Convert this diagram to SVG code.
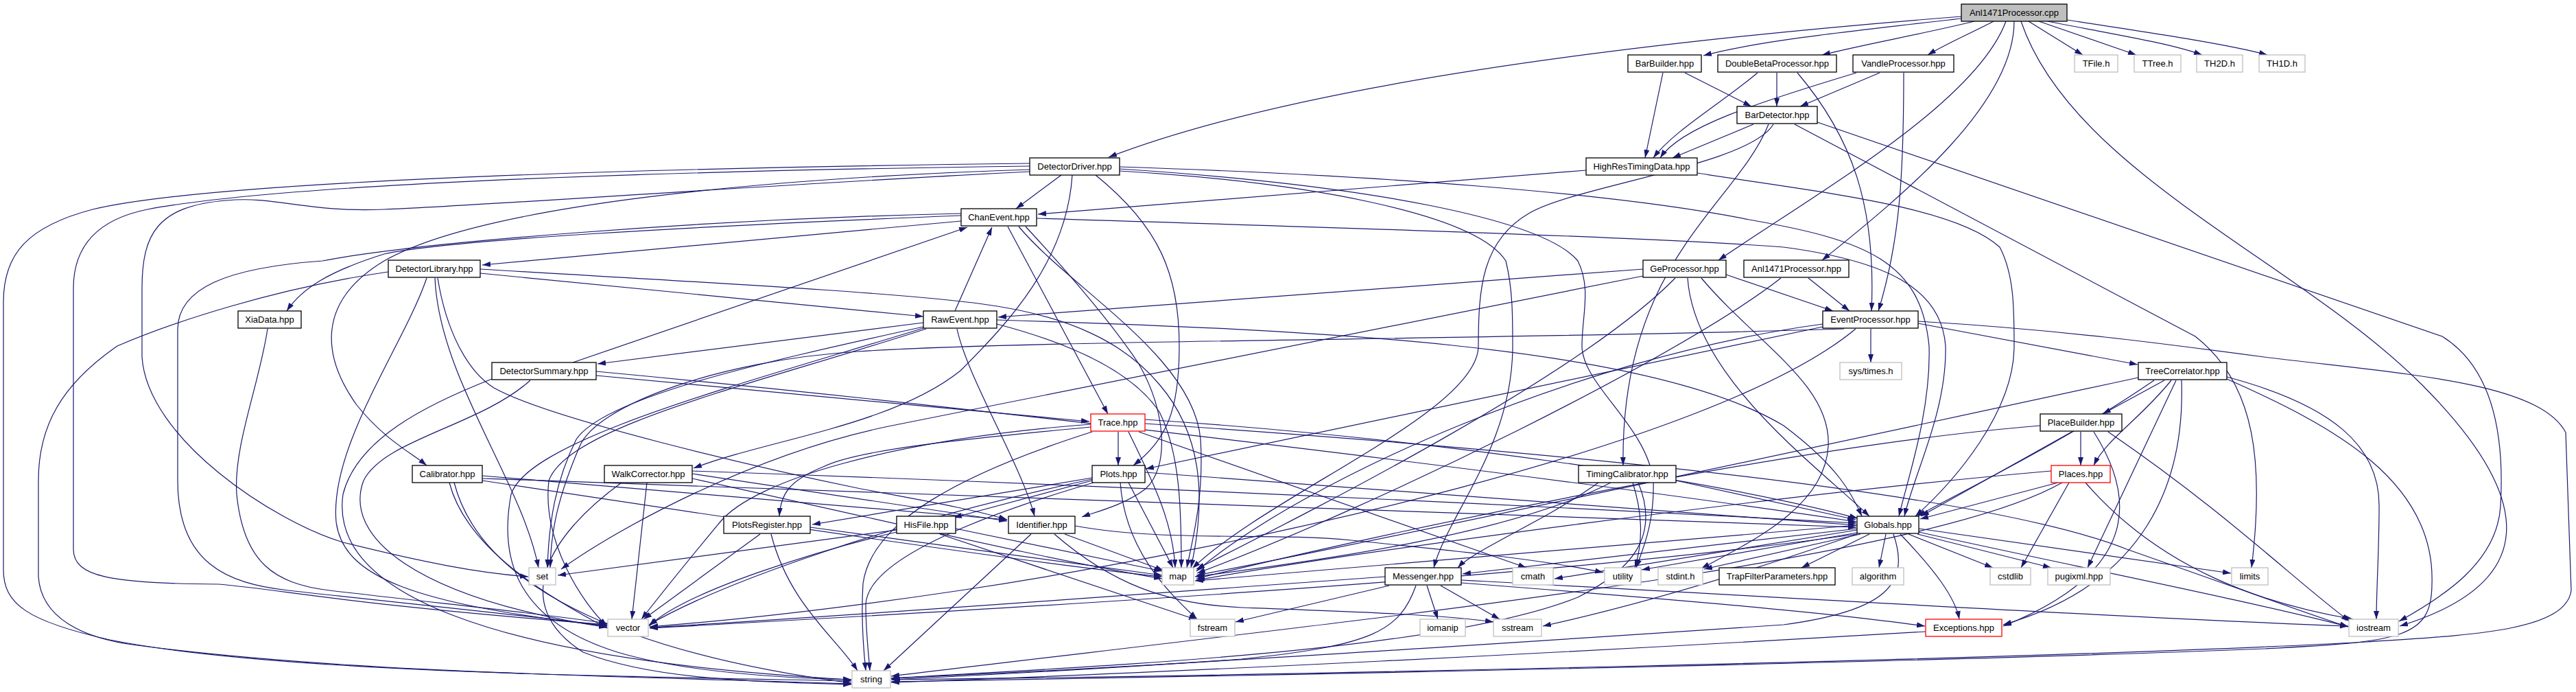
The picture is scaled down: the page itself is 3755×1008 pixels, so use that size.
<svg xmlns="http://www.w3.org/2000/svg" width="3755" height="1008" viewBox="0 0 3755 1008">
<defs>
<marker id="arr" markerWidth="12" markerHeight="8" refX="12" refY="4" orient="auto" markerUnits="userSpaceOnUse"><path d="M0,0 L12,4 L0,8 z" fill="#191970"/></marker>
<style>
.bg{fill:#ffffff}
#edges path{fill:none;stroke:#191970;stroke-width:1.2;marker-end:url(#arr)}
.node rect{fill:#ffffff;stroke:#000000;stroke-width:1.3}
.node.sys rect{stroke:#bfbfbf}
.node.red rect{stroke:#ff0000}
.node.root rect{fill:#bfbfbf}
.node text{font-family:"Liberation Sans",Arial,Helvetica,sans-serif;font-size:13px;text-anchor:middle;fill:#000000}
</style>
</defs>
<rect class="bg" x="0" y="0" width="3755" height="1008"/>
<g id="edges">
<path d="M2859,24 C2400,60 1900,120 1616,229"/>
<path d="M2859,27 C2700,45 2560,60 2483,81"/>
<path d="M2878,31 C2800,50 2720,64 2656,80"/>
<path d="M2906,31 C2880,45 2840,62 2810,80"/>
<path d="M2924,31 C2880,150 2650,280 2505,379"/>
<path d="M2936,31 C2936,150 2780,280 2656,379"/>
<path d="M2946,31 C3020,250 3350,380 3530,560 C3700,730 3700,850 3498,912"/>
<path d="M2957,31 L3036,80"/>
<path d="M2972,31 L3114,80"/>
<path d="M2985,31 C3080,50 3160,62 3210,80"/>
<path d="M3013,29 C3150,50 3250,65 3305,80"/>
<path d="M2424,106 L2398,230"/>
<path d="M2456,106 L2553,155"/>
<path d="M2590,106 L2590,155"/>
<path d="M2562,106 C2510,150 2440,190 2410,230"/>
<path d="M2620,106 C2700,200 2735,300 2728,453"/>
<path d="M2740,106 L2624,155"/>
<path d="M2706,106 C2560,150 2450,185 2420,230"/>
<path d="M2775,106 C2775,250 2770,350 2738,453"/>
<path d="M2556,181 L2438,230"/>
<path d="M2578,181 C2530,300 2362,380 2366,678"/>
<path d="M2585,181 C2550,240 2300,270 2230,310 C2160,350 2155,420 2155,504 C2155,600 1850,720 1738,828"/>
<path d="M2616,181 L3200,490 C3290,560 3300,680 3282,827"/>
<path d="M2649,178 L3560,490 C3640,540 3650,650 3645,737 C3640,820 3560,870 3497,905"/>
<path d="M1547,255 L1481,304"/>
<path d="M1563,255 C1555,380 1470,470 1400,540 C1300,620 1120,640 1011,682"/>
<path d="M1597,255 C1690,330 1719,400 1719,504 C1719,600 1700,640 1652,678"/>
<path d="M1501,247 C1100,260 700,300 560,380 C460,440 470,520 520,590 C560,640 600,660 622,678"/>
<path d="M1501,250 C1100,270 700,300 560,305 C450,310 400,285 330,292 C230,300 207,340 207,420 L207,520 C215,640 400,760 500,790 C620,820 700,835 770,840"/>
<path d="M1501,242 C900,250 400,270 215,305 C140,320 107,360 107,420 L107,800 C107,840 160,850 319,851 C420,860 500,880 885,910"/>
<path d="M1501,238 C900,245 300,265 135,305 C40,330 5,370 5,440 L5,830 C5,880 40,905 160,932 C400,980 900,985 1241,992"/>
<path d="M1632,243 C2000,255 2350,280 2550,320 C2720,350 2800,380 2812,504 C2815,600 2780,700 2768,752"/>
<path d="M1632,249 C1900,265 2150,310 2195,380 C2205,420 2205,460 2205,504 C2205,650 2110,750 2090,827"/>
<path d="M1632,246 C2000,270 2250,320 2300,380 C2320,420 2306,460 2306,504 C2306,560 2400,620 2410,700 C2412,760 2395,800 2385,827"/>
<path d="M2312,248 L1513,312"/>
<path d="M2474,252 C2650,280 2850,300 2915,360 C2936,400 2936,450 2936,504 C2936,600 2850,700 2792,752"/>
<path d="M1401,322 L703,386"/>
<path d="M1401,314 C1000,330 650,350 560,370 C480,395 440,420 418,453"/>
<path d="M1401,311 C1000,320 600,355 470,380 C330,390 259,420 259,480 L259,700 C259,820 330,850 420,860 C600,880 800,900 885,912"/>
<path d="M1469,330 L1615,603"/>
<path d="M1485,330 C1560,420 1740,520 1750,640 C1755,720 1740,780 1730,827"/>
<path d="M1495,330 C1560,400 1620,470 1660,530 C1700,600 1705,680 1670,712 C1640,735 1600,745 1577,753"/>
<path d="M1511,318 C1900,330 2400,345 2600,360 C2750,380 2830,420 2836,504 C2838,600 2790,690 2776,752"/>
<path d="M700,398 L1346,461"/>
<path d="M566,396 C400,420 250,470 171,504 C90,560 56,620 56,700 L56,840 C60,900 120,930 200,940 C500,980 900,985 1241,996"/>
<path d="M622,405 C590,500 480,650 490,760 C500,840 600,880 885,912"/>
<path d="M634,405 C640,550 760,700 785,827"/>
<path d="M638,405 C650,480 680,540 720,565 C800,610 1100,680 1250,711 C1350,730 1420,742 1468,757"/>
<path d="M700,392 C1000,410 1300,425 1433,443 C1560,460 1640,500 1690,560 C1750,630 1760,720 1736,827"/>
<path d="M390,479 C378,560 340,650 345,720 C355,820 400,850 480,860 C650,880 800,895 885,908"/>
<path d="M1392,453 L1446,331"/>
<path d="M1346,470 L871,530"/>
<path d="M1395,479 C1410,550 1490,680 1508,752"/>
<path d="M1346,476 C1100,530 880,580 840,640 C810,700 800,760 798,827"/>
<path d="M1350,479 C1100,560 830,620 800,700 C790,790 850,880 885,912"/>
<path d="M1346,478 C1080,560 770,640 745,720 C730,800 740,900 900,950 C1000,980 1150,988 1241,990"/>
<path d="M1453,472 C1560,500 1650,540 1690,600 C1720,660 1722,740 1722,827"/>
<path d="M1453,466 C1900,480 2400,500 2600,620 C2680,680 2700,720 2714,752"/>
<path d="M835,528 L1410,331"/>
<path d="M869,547 L1588,614"/>
<path d="M869,541 C1500,600 2300,700 2706,760"/>
<path d="M773,554 C700,620 560,640 530,700 C500,780 600,870 885,914"/>
<path d="M717,552 C620,590 520,640 500,720 C480,860 700,960 1241,990"/>
<path d="M1630,629 L1630,678"/>
<path d="M1645,629 C1680,700 1710,760 1713,827"/>
<path d="M1660,629 L2225,827"/>
<path d="M1590,622 C1400,640 1250,655 1200,680 C1150,700 1138,720 1136,752"/>
<path d="M1590,618 C1300,640 1100,700 1050,760 C1000,820 960,870 935,902"/>
<path d="M1592,629 C1400,690 1270,760 1258,850 C1255,900 1258,940 1262,977"/>
<path d="M1669,611 C2100,640 2500,700 2708,755"/>
<path d="M1669,617 C2300,660 2900,720 3100,800 C3300,870 3380,900 3423,913"/>
<path d="M1592,700 L1390,754"/>
<path d="M1592,696 C1450,720 1300,745 1184,764"/>
<path d="M1633,703 C1640,800 1700,860 1745,902"/>
<path d="M1645,703 L1710,827"/>
<path d="M1594,703 C1400,760 1265,820 1262,880 C1262,920 1266,950 1268,977"/>
<path d="M1669,688 L2706,765"/>
<path d="M1592,698 C1300,760 1050,850 946,910"/>
<path d="M1108,778 L938,902"/>
<path d="M1124,778 C1150,880 1220,930 1250,977"/>
<path d="M1181,768 L1694,838"/>
<path d="M1307,772 L813,838"/>
<path d="M1370,778 L1745,903"/>
<path d="M1393,770 L1694,832"/>
<path d="M1307,775 C1200,800 1000,860 946,912"/>
<path d="M1503,778 L1288,977"/>
<path d="M1537,778 C1620,850 1700,880 1810,885 C1950,890 2100,895 2177,906"/>
<path d="M1552,778 L1696,831"/>
<path d="M1567,766 C1700,790 1850,775 1970,787 C2100,800 2250,815 2337,834"/>
<path d="M703,693 L1468,757"/>
<path d="M703,697 C1500,720 2300,750 2706,768"/>
<path d="M703,700 C1100,760 1500,820 1694,840"/>
<path d="M655,703 C680,800 800,870 885,915"/>
<path d="M662,703 C700,850 900,950 1241,995"/>
<path d="M1009,690 L1468,759"/>
<path d="M1009,686 C1700,710 2300,740 2706,762"/>
<path d="M1009,697 C1300,760 1500,810 1694,843"/>
<path d="M943,703 L921,902"/>
<path d="M906,703 C800,780 740,880 850,950 C950,990 1100,993 1241,997"/>
<path d="M2348,703 C2200,780 1900,820 1742,840"/>
<path d="M2443,700 L2705,757"/>
<path d="M2380,703 C2395,750 2395,790 2383,827"/>
<path d="M2388,703 C2420,780 2380,830 2300,870 C2100,950 1600,970 1299,988"/>
<path d="M2330,703 C2250,760 2150,800 2125,827"/>
<path d="M2516,400 L2672,453"/>
<path d="M2395,392 L1455,462"/>
<path d="M2395,402 L1300,620 C1100,660 900,770 818,829"/>
<path d="M2442,405 C2300,550 1900,750 1744,829"/>
<path d="M2460,405 C2470,550 2650,680 2725,752"/>
<path d="M2480,405 C2560,500 2670,560 2665,650 C2660,740 2550,790 2480,828"/>
<path d="M2636,405 L2696,453"/>
<path d="M2596,405 C2450,520 2000,740 1745,835"/>
<path d="M2727,479 L2727,528"/>
<path d="M2796,471 L3116,531"/>
<path d="M2796,468 C3000,480 3150,500 3300,520 C3500,545 3700,555 3740,630 L3748,860 C3740,920 3600,925 3450,935 C3000,960 1800,985 1300,990"/>
<path d="M2657,472 C2300,520 1900,700 1744,832"/>
<path d="M2688,479 C2200,495 1500,495 1250,512 C1050,525 870,590 845,650 C815,720 803,770 802,827"/>
<path d="M2705,479 C2500,650 1800,800 1400,860 C1200,890 1050,905 947,913"/>
<path d="M2657,476 L1670,683"/>
<path d="M3155,554 L3065,603"/>
<path d="M3165,554 C3120,610 3070,640 3052,678"/>
<path d="M3172,554 L3043,827"/>
<path d="M3180,554 C3185,700 3130,850 2920,910"/>
<path d="M3117,550 C2700,640 2000,790 1744,838"/>
<path d="M3246,549 C3400,590 3470,650 3468,740 C3468,800 3464,860 3464,902"/>
<path d="M3246,552 C3400,620 3550,700 3545,850 C3545,930 3500,935 3300,945 C2800,965 1800,985 1299,993"/>
<path d="M3140,554 C3000,650 2850,720 2795,752"/>
<path d="M3033,629 L3033,678"/>
<path d="M3020,629 L2800,752"/>
<path d="M2974,620 C2600,650 2000,780 1744,843"/>
<path d="M3052,629 C3110,720 3125,830 2920,912"/>
<path d="M3073,629 C3250,750 3350,850 3425,905"/>
<path d="M3000,703 L2799,756"/>
<path d="M2990,686 C2600,720 2000,800 1744,845"/>
<path d="M3016,703 L2946,827"/>
<path d="M3040,703 C3150,830 3300,880 3430,902"/>
<path d="M3006,703 C2800,820 2000,900 1299,985"/>
<path d="M2725,778 L2626,827"/>
<path d="M2749,778 L2739,827"/>
<path d="M2782,778 L2905,827"/>
<path d="M2795,778 L2990,827"/>
<path d="M2797,770 L3252,835"/>
<path d="M2770,778 C2820,830 2850,870 2856,902"/>
<path d="M2707,770 L2132,836"/>
<path d="M2707,765 L1742,846"/>
<path d="M2707,772 L2266,843"/>
<path d="M2707,776 L2393,830"/>
<path d="M2712,778 L2484,829"/>
<path d="M2707,778 C2200,850 1300,895 947,915"/>
<path d="M2760,778 C2785,850 2750,890 2600,910 C2000,950 1600,975 1299,988"/>
<path d="M2707,778 C2500,850 2350,890 2249,912"/>
<path d="M2797,775 C3000,820 3300,880 3423,913"/>
<path d="M2080,853 L2096,902"/>
<path d="M2100,853 L2186,902"/>
<path d="M2025,853 L1801,906"/>
<path d="M2064,853 C2040,920 2000,940 1810,960 C1600,975 1400,985 1299,990"/>
<path d="M2019,840 C1600,870 1200,900 947,914"/>
<path d="M2130,845 C2600,870 3100,900 3423,912"/>
<path d="M2130,849 C2400,870 2650,890 2806,912"/>
<path d="M2807,920 C2300,950 1700,980 1299,994"/>
</g>
<g id="n_Anl1471Processor_cpp" class="node root"><rect x="2859" y="6" width="154" height="25"/><text x="2936" y="23">Anl1471Processor.cpp</text></g>
<g id="n_BarBuilder" class="node"><rect x="2373" y="80" width="107" height="25"/><text x="2426.5" y="97">BarBuilder.hpp</text></g>
<g id="n_DoubleBetaProcessor" class="node"><rect x="2504" y="80" width="173" height="25"/><text x="2590.5" y="97">DoubleBetaProcessor.hpp</text></g>
<g id="n_VandleProcessor" class="node"><rect x="2701" y="80" width="147" height="25"/><text x="2774.5" y="97">VandleProcessor.hpp</text></g>
<g id="n_TFile" class="node sys"><rect x="3024" y="80" width="63" height="25"/><text x="3055.5" y="97">TFile.h</text></g>
<g id="n_TTree" class="node sys"><rect x="3111" y="80" width="68" height="25"/><text x="3145" y="97">TTree.h</text></g>
<g id="n_TH2D" class="node sys"><rect x="3202" y="80" width="67" height="25"/><text x="3235.5" y="97">TH2D.h</text></g>
<g id="n_TH1D" class="node sys"><rect x="3293" y="80" width="67" height="25"/><text x="3326.5" y="97">TH1D.h</text></g>
<g id="n_BarDetector" class="node"><rect x="2532" y="155" width="117" height="25"/><text x="2590.5" y="172">BarDetector.hpp</text></g>
<g id="n_DetectorDriver" class="node"><rect x="1501" y="230" width="131" height="25"/><text x="1566.5" y="247">DetectorDriver.hpp</text></g>
<g id="n_HighResTimingData" class="node"><rect x="2312" y="230" width="162" height="25"/><text x="2393" y="247">HighResTimingData.hpp</text></g>
<g id="n_ChanEvent" class="node"><rect x="1401" y="304" width="110" height="25"/><text x="1456" y="321">ChanEvent.hpp</text></g>
<g id="n_DetectorLibrary" class="node"><rect x="566" y="379" width="134" height="25"/><text x="633" y="396">DetectorLibrary.hpp</text></g>
<g id="n_GeProcessor" class="node"><rect x="2395" y="379" width="121" height="25"/><text x="2455.5" y="396">GeProcessor.hpp</text></g>
<g id="n_Anl1471Processor_hpp" class="node"><rect x="2542" y="379" width="153" height="25"/><text x="2618.5" y="396">Anl1471Processor.hpp</text></g>
<g id="n_XiaData" class="node"><rect x="347" y="453" width="92" height="25"/><text x="393" y="470">XiaData.hpp</text></g>
<g id="n_RawEvent" class="node"><rect x="1346" y="453" width="107" height="25"/><text x="1399.5" y="470">RawEvent.hpp</text></g>
<g id="n_EventProcessor" class="node"><rect x="2657" y="453" width="139" height="25"/><text x="2726.5" y="470">EventProcessor.hpp</text></g>
<g id="n_DetectorSummary" class="node"><rect x="717" y="528" width="152" height="25"/><text x="793" y="545">DetectorSummary.hpp</text></g>
<g id="n_sys_times" class="node sys"><rect x="2682" y="528" width="90" height="25"/><text x="2727" y="545">sys/times.h</text></g>
<g id="n_TreeCorrelator" class="node"><rect x="3117" y="528" width="129" height="25"/><text x="3181.5" y="545">TreeCorrelator.hpp</text></g>
<g id="n_Trace" class="node red"><rect x="1590" y="603" width="79" height="25"/><text x="1629.5" y="620">Trace.hpp</text></g>
<g id="n_PlaceBuilder" class="node"><rect x="2974" y="603" width="119" height="25"/><text x="3033.5" y="620">PlaceBuilder.hpp</text></g>
<g id="n_Calibrator" class="node"><rect x="601" y="678" width="102" height="25"/><text x="652" y="695">Calibrator.hpp</text></g>
<g id="n_WalkCorrector" class="node"><rect x="881" y="678" width="128" height="25"/><text x="945" y="695">WalkCorrector.hpp</text></g>
<g id="n_Plots" class="node"><rect x="1592" y="678" width="77" height="25"/><text x="1630.5" y="695">Plots.hpp</text></g>
<g id="n_TimingCalibrator" class="node"><rect x="2301" y="678" width="142" height="25"/><text x="2372" y="695">TimingCalibrator.hpp</text></g>
<g id="n_Places" class="node red"><rect x="2990" y="678" width="86" height="25"/><text x="3033" y="695">Places.hpp</text></g>
<g id="n_PlotsRegister" class="node"><rect x="1055" y="752" width="126" height="25"/><text x="1118" y="769">PlotsRegister.hpp</text></g>
<g id="n_HisFile" class="node"><rect x="1307" y="752" width="86" height="25"/><text x="1350" y="769">HisFile.hpp</text></g>
<g id="n_Identifier" class="node"><rect x="1470" y="752" width="97" height="25"/><text x="1518.5" y="769">Identifier.hpp</text></g>
<g id="n_Globals" class="node"><rect x="2707" y="752" width="90" height="25"/><text x="2752" y="769">Globals.hpp</text></g>
<g id="n_set" class="node sys"><rect x="771" y="827" width="39" height="25"/><text x="790.5" y="844">set</text></g>
<g id="n_map" class="node sys"><rect x="1694" y="827" width="46" height="25"/><text x="1717" y="844">map</text></g>
<g id="n_Messenger" class="node"><rect x="2019" y="827" width="111" height="25"/><text x="2074.5" y="844">Messenger.hpp</text></g>
<g id="n_cmath" class="node sys"><rect x="2205" y="827" width="59" height="25"/><text x="2234.5" y="844">cmath</text></g>
<g id="n_utility" class="node sys"><rect x="2339" y="827" width="53" height="25"/><text x="2365.5" y="844">utility</text></g>
<g id="n_stdint" class="node sys"><rect x="2417" y="827" width="65" height="25"/><text x="2449.5" y="844">stdint.h</text></g>
<g id="n_TrapFilterParameters" class="node"><rect x="2506" y="827" width="169" height="25"/><text x="2590.5" y="844">TrapFilterParameters.hpp</text></g>
<g id="n_algorithm" class="node sys"><rect x="2700" y="827" width="75" height="25"/><text x="2737.5" y="844">algorithm</text></g>
<g id="n_cstdlib" class="node sys"><rect x="2901" y="827" width="59" height="25"/><text x="2930.5" y="844">cstdlib</text></g>
<g id="n_pugixml" class="node sys"><rect x="2985" y="827" width="91" height="25"/><text x="3030.5" y="844">pugixml.hpp</text></g>
<g id="n_limits" class="node sys"><rect x="3253" y="827" width="53" height="25"/><text x="3279.5" y="844">limits</text></g>
<g id="n_vector" class="node sys"><rect x="886" y="902" width="59" height="25"/><text x="915.5" y="919">vector</text></g>
<g id="n_fstream" class="node sys"><rect x="1735" y="902" width="65" height="25"/><text x="1767.5" y="919">fstream</text></g>
<g id="n_iomanip" class="node sys"><rect x="2070" y="902" width="66" height="25"/><text x="2103" y="919">iomanip</text></g>
<g id="n_sstream" class="node sys"><rect x="2177" y="902" width="70" height="25"/><text x="2212" y="919">sstream</text></g>
<g id="n_Exceptions" class="node red"><rect x="2807" y="902" width="111" height="25"/><text x="2862.5" y="919">Exceptions.hpp</text></g>
<g id="n_iostream" class="node sys"><rect x="3424" y="902" width="72" height="25"/><text x="3460" y="919">iostream</text></g>
<g id="n_string" class="node sys"><rect x="1242" y="977" width="56" height="25"/><text x="1270" y="994">string</text></g>
</svg>
